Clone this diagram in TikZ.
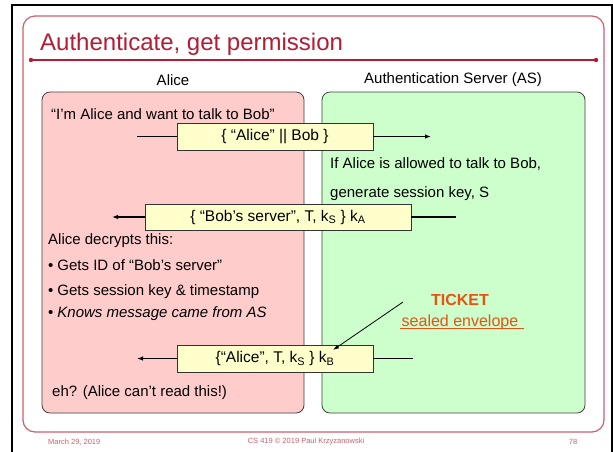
\documentclass[tikz,border=0pt]{standalone}
\usepackage{fontspec}
\setmainfont{Liberation Sans}
\usetikzlibrary{arrows.meta,positioning}
\definecolor{slidered}{RGB}{178,28,52}
\definecolor{framered}{RGB}{205,95,110}
\definecolor{alicepink}{RGB}{255,204,204}
\definecolor{asgreen}{RGB}{204,255,204}
\definecolor{msgyellow}{RGB}{255,255,204}
\definecolor{ticketorange}{RGB}{232,82,20}

\begin{document}
\begin{tikzpicture}[x=1pt,y=-1pt]
    \tikzset{party/.style={draw=black!75, line width=0.8pt, rounded corners=8pt,
        minimum height=321pt, inner sep=0pt},
      msg/.style={draw=black!80, fill=msgyellow, line width=0.8pt,
        inner sep=0pt, minimum height=27pt, font=\fontsize{15.5}{18}\selectfont},
      txt/.style={anchor=west, inner sep=0pt, font=\fontsize{15}{18}\selectfont},
      foot/.style={text=framered, inner sep=0pt, font=\fontsize{7.5}{9}\selectfont},
      flow/.style={line width=1.1pt, -{Latex[length=6pt,width=4.5pt]}}}
    \useasboundingbox (0,0) rectangle (613,451);
    % slide frame
    \draw[line width=2pt] (12,460) -- (12,5) -- (612,5) -- (612,460);
    \draw[framered, line width=1.2pt, rounded corners=12pt] (23,16) rectangle (604,432);
    \coordinate (rulel) at (31,60);
    \coordinate (ruler) at (596,60);
    \draw[slidered, line width=1.2pt] (rulel) -- (ruler);
    \fill[slidered] (rulel) circle (2.2) (ruler) circle (2.2);
    \node[anchor=base west, inner sep=0pt, text=slidered,
      font=\fontsize{24}{28}\selectfont] (title) at (40,50) {Authenticate, get permission};
    % the two parties
    \node[txt, anchor=center] (alicehead) at (173,80) {Alice};
    \node[txt, anchor=center] (ashead) at (453,80) {Authentication Server (AS)};
    \node[party, fill=alicepink, minimum width=262pt] (alice) at (173,252.5) {};
    \node[party, fill=asgreen, minimum width=263pt] (as) at (453.5,252.5) {};
    % request
    \node[txt] (want) at (51,114) {“I’m Alice and want to talk to Bob”};
    \node[msg, minimum width=196pt] (m1) at (275,136.5) {\{ “Alice” || Bob \}};
    \coordinate (m1a) at (137,136.5);
    \coordinate (m1b) at (431,136.5);
    \draw[line width=1.1pt] (m1a) -- (m1.west);
    \draw[flow] (m1.east) -- (m1b);
    \node[txt] (allowed) at (330,164) {If Alice is allowed to talk to Bob,};
    \node[txt] (gen) at (330,194) {generate session key, S};
    % reply for Alice
    \node[msg, minimum width=266pt, minimum height=26pt] (m2) at (278,217)
      {\{ “Bob’s server”, T, k\textsubscript{S} \} k\textsubscript{A}};
    \coordinate (m2a) at (112,217);
    \coordinate (m2b) at (456,217);
    \draw[flow] (m2.west) -- (m2a);
    \draw[line width=1.1pt] (m2.east) -- (m2b);
    \node[txt] (decr) at (48,241) {Alice decrypts this:};
    \node[txt] (b1) at (48,265) {\textbullet\hspace{4pt}Gets ID of “Bob’s server”};
    \node[txt] (b2) at (48,291.5) {\textbullet\hspace{4pt}Gets session key \& timestamp};
    \node[txt] (b3) at (48,314) {\textbullet\hspace{4pt}\textit{Knows message came from AS}};
    % ticket
    \node[msg, minimum width=196pt] (m3) at (275,358.5)
      {\{“Alice”, T, k\textsubscript{S} \} k\textsubscript{B}};
    \coordinate (m3a) at (137,358.5);
    \coordinate (m3b) at (413,358.5);
    \draw[flow] (m3.west) -- (m3a);
    \draw[line width=1.1pt] (m3.east) -- (m3b);
    \node[txt] (eh) at (52,393) {eh? (Alice can’t read this!)};
    \node[inner sep=0pt, text=ticketorange, font=\fontsize{16}{19}\bfseries] (ticket) at (460,300) {TICKET};
    \node[inner sep=0pt, text=ticketorange, font=\fontsize{16}{19}\selectfont] (env) at (460,322) {sealed envelope};
    \draw[ticketorange, line width=1.6pt] ([xshift=-2pt,yshift=-2.5pt]env.base west) -- ([xshift=6pt,yshift=-2.5pt]env.base east);
    \coordinate (tkfrom) at (403,302);
    \coordinate (tkto) at (333,350);
    \draw[line width=0.8pt, -{Latex[length=6pt,width=4pt]}] (tkfrom) -- (tkto);
    % footer
    \node[foot, anchor=west] (date) at (48,442) {March 29, 2019};
    \node[foot] (course) at (306,442) {CS 419 © 2019 Paul Krzyzanowski};
    \node[foot] (page) at (573,442) {78};
  \end{tikzpicture}
\end{document}
